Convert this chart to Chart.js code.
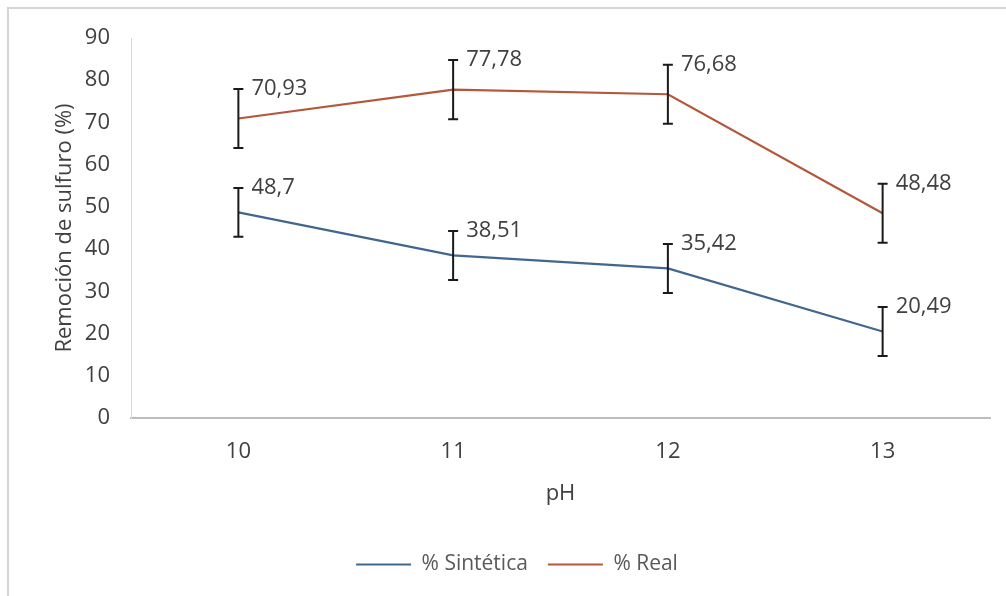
<!DOCTYPE html>
<html>
<head>
<meta charset="utf-8">
<script src="https://cdn.jsdelivr.net/npm/chart.js@4.4.1/dist/chart.umd.min.js"></script>
<style>
  html, body { margin:0; padding:0; background:#fff; }
  #wrap { position:relative; width:1006px; height:596px; }
</style>
</head>
<body>
<div id="wrap"><canvas id="c" width="1006" height="596"></canvas></div>
<script>
// data
const phLabels = ['10', '11', '12', '13'];
const sintetica = [48.7, 38.51, 35.42, 20.49];
const real = [70.93, 77.78, 76.68, 48.48];
// error bar half-heights (estimated from the whiskers)
const errSintetica = [5.8, 5.8, 5.8, 5.8];
const errReal = [7, 7, 7, 7];
const yTicks = [0, 10, 20, 30, 40, 50, 60, 70, 80, 90];

const FONT = "'Open Sans', sans-serif";
const TXT = '#404040';

// light frame on the left/top like the original chart box
const framePlugin = {
  id: 'frame',
  beforeDraw(chart){
    const ctx = chart.ctx;
    ctx.save();
    ctx.fillStyle = '#fff'; ctx.fillRect(0,0,chart.width,chart.height);
    ctx.strokeStyle = '#d4d4d4'; ctx.lineWidth = 2;
    ctx.beginPath(); ctx.moveTo(8, chart.height); ctx.lineTo(8, 8); ctx.lineTo(chart.width, 8); ctx.stroke();
    ctx.restore();
  },
  // legend in the original sits a little right of the canvas centre
  afterLayout(chart){
    if (chart.legend) { chart.legend.left += 22; chart.legend.right += 22; }
  }
};

// error bars + value labels, positioned with the chart scales
const errorPlugin = {
  id: 'errorBars',
  afterDatasetsDraw(chart){
    const ctx = chart.ctx;
    const xs = chart.scales.x, ys = chart.scales.y;
    const sets = [[sintetica, errSintetica], [real, errReal]];
    ctx.save();
    sets.forEach(([vals, errs]) => {
      vals.forEach((v, i) => {
        const x = xs.getPixelForValue(i);
        const yTop = ys.getPixelForValue(v + errs[i]);
        const yBot = ys.getPixelForValue(v - errs[i]);
        ctx.strokeStyle = '#1a1a1a'; ctx.lineWidth = 2;
        ctx.beginPath();
        ctx.moveTo(x, yTop); ctx.lineTo(x, yBot);
        ctx.moveTo(x-5, yTop); ctx.lineTo(x+5, yTop);
        ctx.moveTo(x-5, yBot); ctx.lineTo(x+5, yBot);
        ctx.stroke();
        ctx.fillStyle = TXT; ctx.font = '22px ' + FONT;
        ctx.textAlign = 'left'; ctx.textBaseline = 'middle';
        ctx.fillText(String(v).replace('.', ','), x + 13, yTop);
      });
    });
    ctx.restore();
  }
};

new Chart(document.getElementById('c'), {
  type: 'line',
  data: {
    labels: phLabels,
    datasets: [
      { label: '% Sintética', data: sintetica, borderColor: '#41668f', backgroundColor: '#41668f', borderWidth: 2.2, pointRadius: 0, tension: 0 },
      { label: '% Real', data: real, borderColor: '#b3583b', backgroundColor: '#b3583b', borderWidth: 2.2, pointRadius: 0, tension: 0 }
    ]
  },
  options: {
    responsive: false,
    animation: false,
    layout: { padding: { top: 38, right: 16, bottom: 11, left: 0 } },
    plugins: {
      legend: {
        position: 'bottom',
        labels: { usePointStyle: true, pointStyle: 'line', pointStyleWidth: 55, color: '#595959', font: { family: FONT, size: 21 }, padding: 20 }
      },
      tooltip: { enabled: false }
    },
    scales: {
      x: {
        offset: true,
        grid: { display: false },
        border: { display: true, color: '#bdbdbd', width: 2 },
        ticks: { color: TXT, font: { family: FONT, size: 22 }, padding: 13 },
        title: { display: true, text: 'pH', color: TXT, font: { family: FONT, size: 22 }, padding: { top: 4, bottom: 27 } },
        afterFit(s){ s.height = 116; }
      },
      y: {
        min: 0, max: 90,
        afterBuildTicks(s){ s.ticks = yTicks.map(v => ({ value: v })); },
        grid: { display: false },
        border: { display: true, color: '#d9d9d9', width: 1 },
        ticks: { color: TXT, font: { family: FONT, size: 22 }, padding: 13 },
        title: { display: true, text: 'Remoción de sulfuro (%)', color: TXT, font: { family: FONT, size: 22 }, padding: { top: 52, bottom: 0 } },
        afterFit(s){ s.width = 131; }
      }
    }
  },
  plugins: [framePlugin, errorPlugin]
});
</script>
</body>
</html>
